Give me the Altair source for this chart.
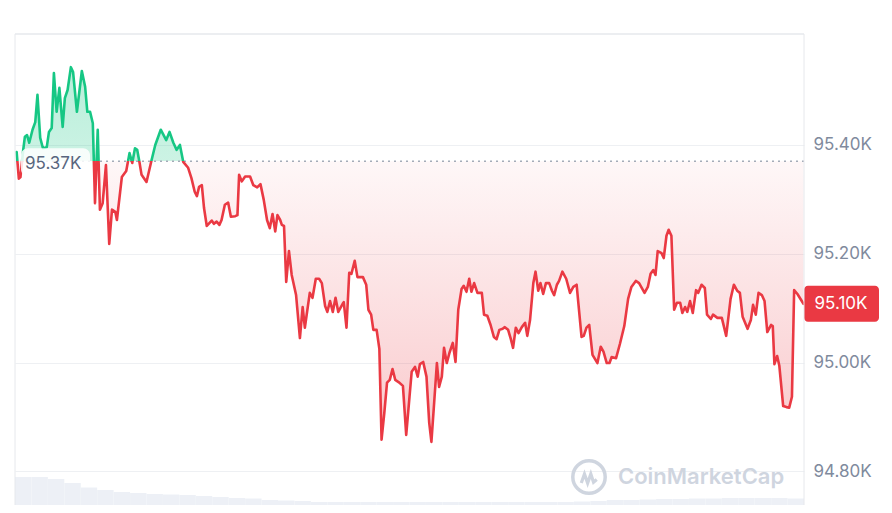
import altair as alt
import pandas as pd

# ---- data ----
times = [3,7,10,15,18,22,26,32,37,41,
         46,51,58,62,67,71,76,81,87,91,
         96,102,106,113,122,128,132,137,142,146,
         151,155,160,166,172,177,183,186,195,203,
         209,214,219,223,227,231,240,249,256,266,
         276,282,289,295,301,307,316,322,328,332,
         336,341,345,350,359,363,368,373,377,383,
         389,394,402,406,409,414,420,429,435,442,
         448,454,460,465,470,475,479,484,487,491,
         495,500,505,513,520,525,529,538,543,549,
         555,560,566,570,575,580,585,590,598,600,
         605,610,614,620,625,635,641,645,650,654,
         660,665,669,674,679,684,689,694,700,708,
         714,720,724,730,735,739,745,751,756,760,
         765,770,774,779,783,788,793,799,804,809,
         815,819,824,829,833,838,844,852,856,862,
         868,874,879,884,890,894,900,905,909,914,
         919,925,931,935,940,946,950,955,959,964,
         969,975,980,984,989,993,999,1006,1013,1019,
         1025,1034,1038,1043,1048,1054,1063,1069,1074,1080,
         1085,1089,1097,1104,1112,1119,1125,1133,1139,1149,
         1155,1160,1165,1169,1173,1180,1184,1189,1193,1198,
         1203,1208,1214,1218,1223,1227,1232,1237,1243,1247,
         1253,1259,1263,1270,1274,1282,1290,1298,1306,1312,
         1318,1323,1328,1337,1343,1347,1352,1357,1363,1368,
         1373,1380,1383,1386,1391,1395,1402,1408,1413,1418,
         1422,1428,1439]

prices = [95.387,95.338,95.341,95.391,95.415,95.418,95.404,95.428,95.442,95.492,
          95.413,95.394,95.396,95.424,95.431,95.532,95.461,95.505,95.433,95.486,
          95.501,95.543,95.534,95.461,95.536,95.507,95.461,95.461,95.440,95.293,
          95.428,95.281,95.293,95.363,95.218,95.281,95.277,95.262,95.341,95.352,
          95.385,95.367,95.394,95.391,95.369,95.345,95.332,95.371,95.400,95.428,
          95.409,95.424,95.404,95.391,95.400,95.369,95.358,95.339,95.314,95.306,
          95.323,95.326,95.284,95.251,95.261,95.255,95.259,95.253,95.262,95.290,
          95.294,95.268,95.269,95.271,95.345,95.333,95.342,95.342,95.326,95.322,
          95.328,95.299,95.262,95.247,95.273,95.241,95.271,95.262,95.253,95.251,
          95.148,95.205,95.161,95.124,95.045,95.102,95.064,95.128,95.119,95.154,
          95.154,95.146,95.104,95.093,95.113,95.093,95.119,95.093,95.108,95.111,
          95.064,95.165,95.163,95.187,95.157,95.157,95.143,95.097,95.088,95.060,
          95.060,95.025,94.858,94.907,94.963,94.968,94.988,94.968,94.964,94.957,
          94.867,94.937,94.983,94.992,94.974,94.997,95.001,94.974,94.889,94.854,
          94.926,94.999,94.955,94.974,95.027,94.999,95.018,95.036,95.001,95.097,
          95.135,95.141,95.130,95.154,95.130,95.146,95.128,95.128,95.088,95.086,
          95.069,95.047,95.043,95.060,95.062,95.065,95.060,95.043,95.027,95.064,
          95.054,95.065,95.073,95.049,95.078,95.146,95.167,95.132,95.146,95.126,
          95.146,95.146,95.132,95.124,95.143,95.150,95.167,95.154,95.128,95.139,
          95.143,95.047,95.049,95.064,95.069,95.014,94.999,95.029,95.020,94.999,
          94.999,95.010,95.008,95.034,95.067,95.117,95.139,95.150,95.146,95.128,
          95.139,95.163,95.170,95.161,95.205,95.201,95.192,95.233,95.244,95.233,
          95.097,95.110,95.110,95.091,95.102,95.093,95.113,95.091,95.133,95.128,
          95.143,95.137,95.088,95.080,95.088,95.082,95.082,95.049,95.117,95.143,
          95.132,95.128,95.084,95.062,95.078,95.106,95.088,95.128,95.124,95.113,
          95.056,95.069,95.067,94.997,95.012,94.994,94.920,94.918,94.917,94.937,
          95.133,95.126,95.108]

base_price = 95.37
base_label = "95.37K"
last_label = "95.10K"

vol_start = list(range(0, 1440, 30))
volumes = [28,28,26,22,17.5,15,13,12,11,10.5,10,9,8,7,6.5,5,4.5,4,
           3,3,3,3,3,3,3,3,3,3,3,3,3,3,3,3,
           3.5,4,5,5,5.5,6,6,6.5,6.5,7,7,7,7,6.5]

y_ticks = [94.8, 95.0, 95.2, 95.4]

# ---- styling ----
GREEN = "#16c784"
RED = "#ea3943"
FONT = "Inter"
FS = 17
W, H = 789, 471

df = pd.DataFrame({"t": times, "price": prices})
vol_df = pd.DataFrame({"t0": vol_start, "t1": [s + 30 for s in vol_start], "vol": volumes})
base_df = pd.DataFrame({"v": [base_price], "label": [base_label]})
last_df = pd.DataFrame({"v": [prices[-1]], "label": [last_label]})
one = pd.DataFrame({"k": [0]})

pmax, pmin = max(prices), min(prices)
f = (pmax - base_price) / (pmax - pmin)

xs = alt.Scale(domain=[0, 1440], nice=False, zero=False)
ys = alt.Scale(domain=[94.738, 95.604], nice=False, zero=False)
X = alt.X("t:Q", scale=xs, axis=None)

line_grad = alt.Gradient(
    gradient="linear", x1=0, x2=0, y1=0, y2=1,
    stops=[alt.GradientStop(color=GREEN, offset=0),
           alt.GradientStop(color=GREEN, offset=f),
           alt.GradientStop(color=RED, offset=f),
           alt.GradientStop(color=RED, offset=1)])
area_grad = alt.Gradient(
    gradient="linear", x1=0, x2=0, y1=0, y2=1,
    stops=[alt.GradientStop(color="rgba(22,199,132,0.30)", offset=0),
           alt.GradientStop(color="rgba(22,199,132,0.22)", offset=f),
           alt.GradientStop(color="rgba(234,57,67,0.04)", offset=f),
           alt.GradientStop(color="rgba(234,57,67,0.27)", offset=1)])

vol = alt.Chart(vol_df).mark_rect(color="#edf0f6").encode(
    x=alt.X("t0:Q", scale=xs, axis=None), x2="t1:Q",
    y=alt.Y("vol:Q", scale=alt.Scale(domain=[0, 471], nice=False), axis=None),
    y2=alt.datum(0),
)

Y = alt.Y("price:Q", scale=ys, axis=alt.Axis(
    orient="right", values=y_ticks, labelExpr="format(datum.value, '.2f') + 'K'",
    grid=True, gridColor="#eef0f3", gridWidth=1, domain=False, ticks=False,
    labelPadding=9, labelFontSize=FS, labelColor="#808a9d", labelFont=FONT, title=None))

area = alt.Chart(df).mark_area(fill=area_grad).encode(x=X, y=Y, y2=alt.datum(base_price))
line = alt.Chart(df).mark_line(stroke=line_grad, strokeWidth=2.6, strokeJoin="round",
                               strokeCap="round").encode(x=X, y=Y)

base_rule = alt.Chart(base_df).mark_rule(color="#a4acb8", strokeDash=[2, 4], strokeWidth=1.5).encode(
    y=alt.Y("v:Q", scale=ys))

base_box = alt.Chart(base_df).mark_rect(color="white", opacity=0.85, cornerRadius=7,
                                        yOffset=-13, y2Offset=15).encode(
    x=alt.value(6), x2=alt.value(75), y=alt.Y("v:Q", scale=ys), y2="v:Q")
base_text = alt.Chart(base_df).mark_text(align="left", baseline="middle", dy=3, font=FONT,
                                         fontSize=FS, color="#58667e").encode(
    x=alt.value(10), y=alt.Y("v:Q", scale=ys), text="label:N")

last_box = alt.Chart(last_df).mark_rect(color=RED, cornerRadius=4, yOffset=-18, y2Offset=18).encode(
    x=alt.value(789), x2=alt.value(864), y=alt.Y("v:Q", scale=ys), y2="v:Q")
last_text = alt.Chart(last_df).mark_text(align="center", baseline="middle", font=FONT,
                                         fontSize=FS, color="white").encode(
    x=alt.value(826), y=alt.Y("v:Q", scale=ys), text="label:N")

border_c = "#e6e8ec"
b_left = alt.Chart(one).mark_rule(color=border_c).encode(x=alt.value(0), y=alt.value(0), y2=alt.value(H))
b_right = alt.Chart(one).mark_rule(color=border_c).encode(x=alt.value(W), y=alt.value(0), y2=alt.value(H))
b_top = alt.Chart(one).mark_rule(color=border_c, strokeWidth=1.5).encode(x=alt.value(0), x2=alt.value(W), y=alt.value(0))

wm_c = "#cfd5df"
wm_circle = alt.Chart(one).mark_point(shape="circle", size=1050, filled=False, strokeWidth=3.5,
                                      color=wm_c, opacity=1).encode(x=alt.value(574), y=alt.value(443))
wm_m = alt.Chart(one).mark_point(
    shape="M-0.85,0.45 L-0.5,-0.55 L-0.15,0.45 L0.2,-0.55 L0.5,0.35 L0.85,0.05",
    size=330, filled=False, strokeWidth=3.2, color=wm_c, opacity=1).encode(x=alt.value(574), y=alt.value(445))
wm_text = alt.Chart(one).mark_text(text="CoinMarketCap", align="left", baseline="middle", font=FONT,
                                   fontSize=22, fontWeight=600, color=wm_c).encode(
    x=alt.value(603), y=alt.value(443))

price_layer = alt.layer(area, base_rule, line, base_box, base_text, last_box, last_text,
                        b_left, b_right, b_top, wm_circle, wm_m, wm_text)

chart = alt.layer(vol, price_layer).resolve_scale(y="independent").properties(
    width=W, height=H,
    padding={"left": 7, "top": 26, "right": 80, "bottom": 0},
    autosize=alt.AutoSizeParams(type="none"),
    background="white",
).configure_view(stroke=None)

chart.save("out.html", embed_options={"renderer": "svg", "actions": False})
